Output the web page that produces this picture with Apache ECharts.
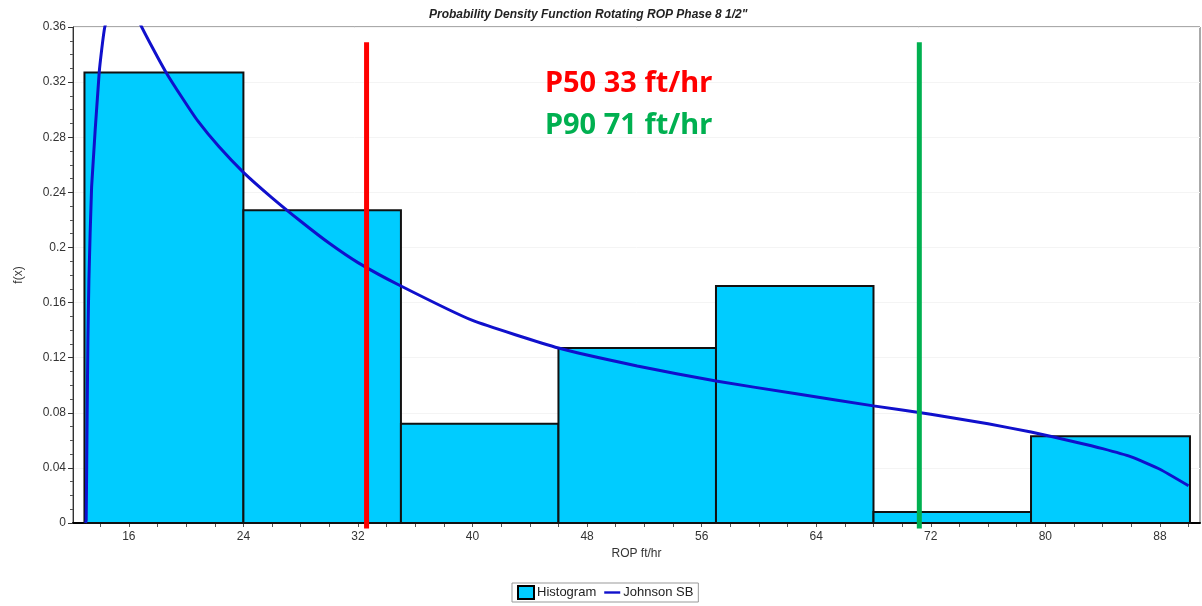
<!DOCTYPE html>
<html>
<head>
<meta charset="utf-8">
<title>PDF Rotating ROP</title>
<script src="https://cdn.jsdelivr.net/npm/echarts@6/dist/echarts.min.js"></script>
<style>
html, body { margin: 0; padding: 0; background: #fff; }
#chart { width: 1202px; height: 606px; }
</style>
</head>
<body>
<div id="chart"></div>
<script>
// histogram bins (ROP ft/hr) and density
var binStart = [12.9, 24.0, 35.0, 46.0, 57.0, 68.0, 79.0];
var binEnd   = [24.0, 35.0, 46.0, 57.0, 68.0, 79.0, 90.1];
var binDensity = [0.327, 0.227, 0.072, 0.127, 0.172, 0.008, 0.063];

// Johnson SB fit
var curveX = [12.98, 13.02, 13.09, 13.14, 13.21, 13.40, 13.93, 14.32, 14.9, 15.6, 16.4, 16.8, 17.7, 18.6, 19.7, 20.8, 22.3, 24, 26, 28, 30, 32, 35, 40, 46, 51.5, 57, 62.5, 68, 72, 76, 79, 82, 84, 86, 88, 90.0];
var curveY = [0, 0.002, 0.081, 0.132, 0.176, 0.244, 0.327, 0.36, 0.375, 0.378, 0.372, 0.362, 0.344, 0.327, 0.309, 0.292, 0.273, 0.2545, 0.236, 0.219, 0.203, 0.189, 0.172, 0.147, 0.127, 0.114, 0.103, 0.094, 0.085, 0.079, 0.072, 0.066, 0.059, 0.054, 0.048, 0.039, 0.027];

// percentile markers
var p50 = 32.6, p90 = 71.2;
var markerLow = -0.004, markerHigh = 0.349;

var xTicks = [14, 16, 18, 20, 22, 24, 26, 28, 30, 32, 34, 36, 38, 40, 42, 44, 46, 48, 50, 52, 54, 56, 58, 60, 62, 64, 66, 68, 70, 72, 74, 76, 78, 80, 82, 84, 86, 88, 90];
var xLabels = [16, 24, 32, 40, 48, 56, 64, 72, 80, 88];

var histData = binStart.map(function (s, i) { return [s, binEnd[i], binDensity[i]]; });
var curveData = curveX.map(function (x, i) { return [x, curveY[i]]; });

var myChart = echarts.init(document.getElementById('chart'));
var option = {
    animation: false,
    textStyle: { fontFamily: 'Liberation Sans, Arial, sans-serif' },
    title: {
        text: 'Probability Density Function Rotating ROP Phase 8 1/2"',
        left: 424,
        top: 4,
        textStyle: { fontSize: 12, fontStyle: 'italic', fontWeight: 'bold', color: '#222' }
    },
    legend: {
        data: [
            { name: 'Histogram', icon: 'rect' },
            { name: 'Johnson SB', icon: 'path://M0,0h20v3h-20z' }
        ],
        left: 512,
        top: 583,
        padding: [2, 5],
        itemGap: 8,
        itemWidth: 16,
        itemHeight: 13,
        borderColor: '#999',
        borderWidth: 1,
        textStyle: { fontSize: 13, color: '#222', padding: [0, 0, 0, -2] }
    },
    grid: {
        left: 73, right: 2, top: 27, bottom: 83,
        show: true, borderColor: '#555', borderWidth: 1
    },
    xAxis: {
        type: 'value',
        min: 12.1, max: 90.8,
        name: 'ROP ft/hr',
        nameLocation: 'middle',
        nameGap: 24,
        nameTextStyle: { fontSize: 12, color: '#333' },
        axisLine: { lineStyle: { color: '#000', width: 2 } },
        axisTick: { customValues: xTicks, length: 4, lineStyle: { color: '#555' } },
        axisLabel: { customValues: xLabels, fontSize: 12, color: '#333', margin: 8 },
        splitLine: { show: false }
    },
    yAxis: {
        type: 'value',
        min: 0, max: 0.36, interval: 0.04,
        name: 'f(x)',
        nameLocation: 'middle',
        nameGap: 48,
        nameTextStyle: { fontSize: 12, color: '#333' },
        axisLine: { show: true, lineStyle: { color: '#333' } },
        axisTick: { length: 5, lineStyle: { color: '#333' } },
        minorTick: { show: true, splitNumber: 4, length: 3, lineStyle: { color: '#555' } },
        axisLabel: { fontSize: 12, color: '#333', margin: 7 },
        splitLine: { lineStyle: { color: '#f4f4f4' } }
    },
    series: [
        {
            name: 'Histogram',
            type: 'custom',
            itemStyle: { color: '#00ccff', borderColor: '#000', borderWidth: 1 },
            encode: { x: [0, 1], y: 2 },
            data: histData,
            renderItem: function (params, api) {
                var a = api.coord([api.value(0), 0]);
                var b = api.coord([api.value(1), api.value(2)]);
                return {
                    type: 'rect',
                    shape: { x: a[0], y: b[1], width: b[0] - a[0], height: a[1] - b[1] },
                    style: { fill: '#00ccff', stroke: '#111', lineWidth: 2 }
                };
            },
            z: 2
        },
        {
            name: 'Johnson SB',
            type: 'line',
            data: curveData,
            symbol: 'none',
            smooth: 0.15,
            clip: true,
            lineStyle: { color: '#1010cc', width: 3 },
            itemStyle: { color: '#1010cc' },
            z: 3
        },
        {
            name: 'P50',
            type: 'line',
            data: [[p50, markerLow], [p50, markerHigh]],
            symbol: 'none',
            clip: false,
            lineStyle: { color: '#ff0000', width: 5 },
            z: 4
        },
        {
            name: 'P90',
            type: 'line',
            data: [[p90, markerLow], [p90, markerHigh]],
            symbol: 'none',
            clip: false,
            lineStyle: { color: '#00b050', width: 5 },
            z: 4
        }
    ],
    graphic: [
        {
            type: 'text', left: 545, top: 69, z: 10,
            style: { text: 'P50 33 ft/hr', fill: '#ff0000', font: 'bold 29px "Noto Sans", sans-serif' }
        },
        {
            type: 'text', left: 545, top: 111, z: 10,
            style: { text: 'P90 71 ft/hr', fill: '#00b050', font: 'bold 29px "Noto Sans", sans-serif' }
        }
    ]
};
myChart.setOption(option);
window.addEventListener('resize', function () {
    myChart.resize();
});
</script>
</body>
</html>
